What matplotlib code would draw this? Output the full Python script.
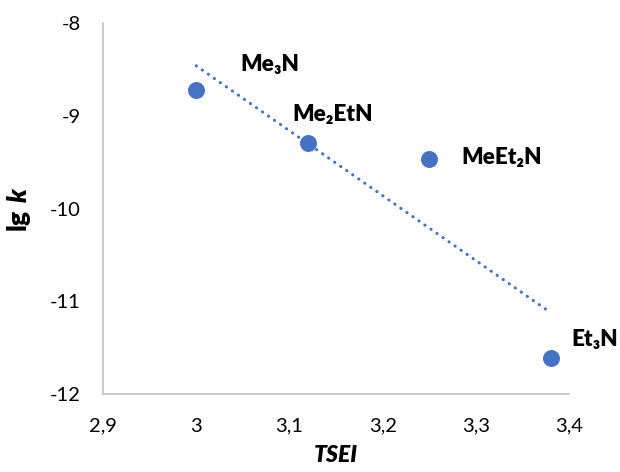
import numpy as np
import matplotlib
matplotlib.use("Agg")
import matplotlib.pyplot as plt
from matplotlib.ticker import FuncFormatter

plt.rcParams['font.family'] = ['Lato', 'DejaVu Sans']
plt.rcParams['mathtext.fontset'] = 'custom'
plt.rcParams['mathtext.bf'] = 'Lato:heavy'
plt.rcParams['mathtext.bfit'] = 'Lato:heavy:italic'

# data
names = ['Me₃N', 'Me₂EtN', 'MeEt₂N', 'Et₃N']
tsei = [3.00, 3.12, 3.25, 3.38]
lgk = [-8.72, -9.29, -9.47, -11.61]
label_offsets = [(32, 18), (-11, 20), (23, 1.5), (15, 13)]

blue = '#4472C4'

fig = plt.figure(figsize=(6.2, 4.72), dpi=100)
ax = fig.add_axes([0.166, 0.165, 0.752, 0.786])

ax.scatter(tsei, lgk, s=125, color=blue, zorder=3)

# linear trendline
slope, icpt = np.polyfit(tsei, lgk, 1)
xs = np.array([min(tsei), max(tsei)])
ax.plot(xs, slope * xs + icpt, color=blue, lw=2.2,
        linestyle=(0, (0.1, 2.3)), dash_capstyle='round', zorder=2)

for n, x, y, off in zip(names, tsei, lgk, label_offsets):
    ax.annotate(n, (x, y), xytext=off, textcoords='offset points',
                ha='left', va='center', fontsize=16.2, fontweight='heavy')

ax.set_xlim(2.9, 3.4)
ax.set_ylim(-12, -8)
ax.set_xticks(np.arange(2.9, 3.41, 0.1))
ax.set_yticks(np.arange(-12, -7.9, 1))
fmt = FuncFormatter(lambda v, p: f"{v:g}".replace('.', ','))
ax.xaxis.set_major_formatter(fmt)
ax.yaxis.set_major_formatter(fmt)
ax.tick_params(length=0, labelsize=14.5)
ax.tick_params(axis='x', pad=17)
ax.tick_params(axis='y', pad=16)

for s in ['top', 'right']:
    ax.spines[s].set_visible(False)
for s in ['left', 'bottom']:
    ax.spines[s].set_color('#BFBFBF')
    ax.spines[s].set_linewidth(1.1)

ax.set_ylabel(r'$\mathbf{lg}\ \mathbfit{k}$', fontsize=19)
ax.yaxis.set_label_coords(-0.15, 0.5)
ax.set_xlabel('TSEI', fontsize=16.5, fontweight='heavy', fontstyle='italic')
ax.xaxis.set_label_coords(0.5, -0.137)

fig.savefig('out.png', dpi=100)
